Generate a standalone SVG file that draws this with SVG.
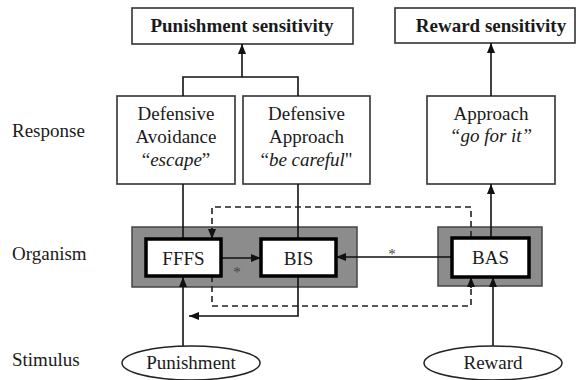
<svg xmlns="http://www.w3.org/2000/svg" width="579" height="380" viewBox="0 0 579 380" font-family="'Liberation Serif', 'Times New Roman', 'DejaVu Serif', serif">
<defs>
<marker id="ah" markerUnits="userSpaceOnUse" markerWidth="10" markerHeight="10" viewBox="0 0 10 10" refX="10" refY="5" orient="auto">
<path d="M0,1 L10,5 L0,9 Z" fill="#111"/>
</marker>
</defs>
<style>
text{font-family:'Liberation Serif','Times New Roman','DejaVu Serif',serif;fill:#1a1a1a;font-size:19px}
.c{text-anchor:middle}
.b{font-weight:bold}
.i{font-style:italic}
.box{fill:#fff;stroke:#333;stroke-width:1.6}
.gray{fill:#8c8c8c;stroke:#444;stroke-width:1.5}
.inner{fill:#fff;stroke:#000;stroke-width:3.5}
.ell{fill:#fff;stroke:#222;stroke-width:1.5}
.ln{fill:none;stroke:#111;stroke-width:1.6}
.ar{fill:none;stroke:#111;stroke-width:1.6;marker-end:url(#ah)}
.dash{fill:none;stroke:#222;stroke-width:1.6;stroke-dasharray:6,4}
.st{font-size:15px;fill:#444}
</style>
<g id="labels">
<text x="12" y="137">Response</text>
<text x="12" y="260">Organism</text>
<text x="12" y="366">Stimulus</text>
</g>
<g id="punishment-sensitivity">
<rect class="box" x="132" y="8" width="221" height="36"/>
<text class="c b" x="242" y="32">Punishment sensitivity</text>
</g>
<g id="reward-sensitivity">
<rect class="box" x="395" y="8" width="180" height="35"/>
<text class="c b" x="491" y="32">Reward sensitivity</text>
</g>
<g id="defensive-avoidance">
<rect class="box" x="117" y="96" width="118" height="88"/>
<text class="c" x="176" y="120">Defensive</text>
<text class="c" x="176" y="143">Avoidance</text>
<text class="c" x="176" y="166">“<tspan class="i">escape</tspan>”</text>
</g>
<g id="defensive-approach">
<rect class="box" x="243" y="96" width="127" height="88"/>
<text class="c" x="306.5" y="120">Defensive</text>
<text class="c" x="306.5" y="143">Approach</text>
<text class="c" x="306.5" y="166">“<tspan class="i">be careful</tspan>"</text>
</g>
<g id="approach">
<rect class="box" x="427" y="96" width="128" height="88"/>
<text class="c" x="491" y="120">Approach</text>
<text class="c i" x="491" y="142">“go for it”</text>
</g>
<g id="organism-left">
<rect class="gray" x="132" y="227" width="225" height="60"/>
</g>
<g id="organism-right">
<rect class="gray" x="438" y="227" width="104" height="59"/>
</g>
<g id="connectors">
<path class="ln" d="M183,96 V77 H298 V96"/>
<path class="ar" d="M242,77 V44"/>
<path class="ar" d="M491,96 V43"/>
<path class="ln" d="M183,184 V239"/>
<path class="ln" d="M298,184 V239"/>
<path class="ar" d="M491,237 V184"/>
<path class="dash" d="M471,237 V207 H212 V229"/>
<path class="ar" d="M212,228 V239"/>
<path class="dash" d="M212,276 V306 H471 V287"/>
<path class="ar" d="M471,288 V277"/>
<path class="ar" d="M183,346 V277"/>
<path class="ar" d="M493,346 V277"/>
<path class="ar" d="M221,258 H261"/>
<path class="ar" d="M452,257 H336"/>
<path class="ar" d="M298,276 V316 H189"/>
<text x="237" y="277" class="c st">*</text>
<text x="392" y="259" class="c st">*</text>
</g>
<g id="fffs">
<rect class="inner" x="146" y="239" width="75" height="37"/>
<text class="c" x="183.5" y="265">FFFS</text>
</g>
<g id="bis">
<rect class="inner" x="261" y="239" width="75" height="37"/>
<text class="c" x="298.5" y="265">BIS</text>
</g>
<g id="bas">
<rect class="inner" x="452" y="238" width="77" height="39"/>
<text class="c" x="490.5" y="264">BAS</text>
</g>
<g id="punishment">
<ellipse class="ell" cx="191" cy="363" rx="69" ry="17"/>
<text class="c" x="191" y="369">Punishment</text>
</g>
<g id="reward">
<ellipse class="ell" cx="493" cy="363" rx="69" ry="17"/>
<text class="c" x="493" y="369">Reward</text>
</g>
</svg>
